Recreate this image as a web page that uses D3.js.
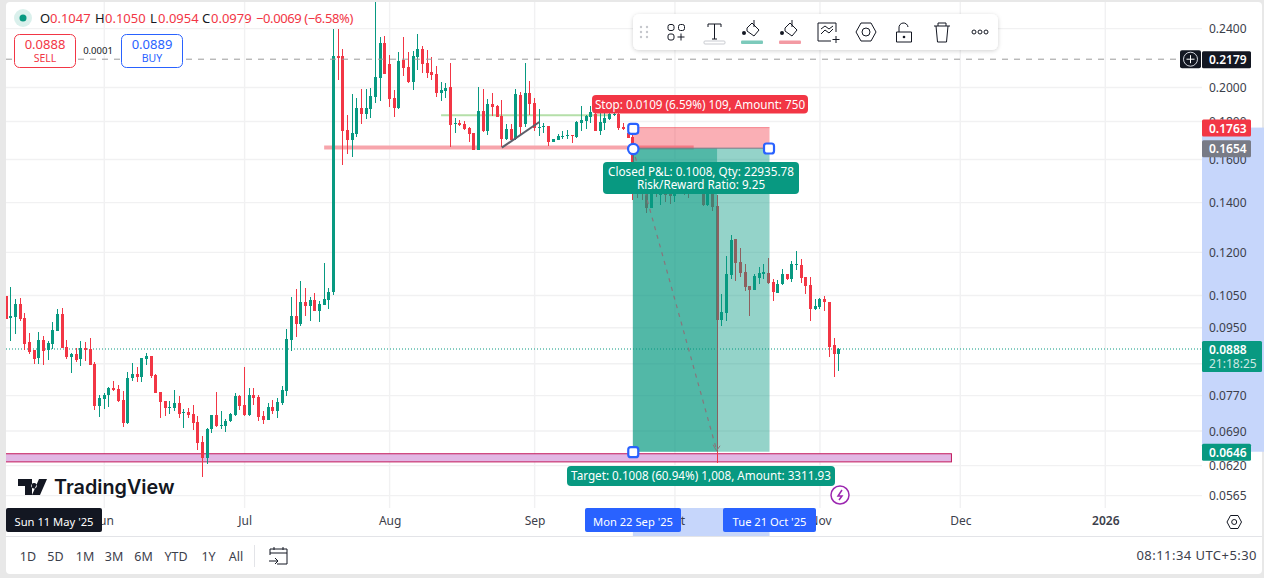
<!DOCTYPE html>
<html>
<head>
<meta charset="utf-8">
<script src="https://cdn.jsdelivr.net/npm/d3@7"></script>
<style>
  html, body { margin: 0; padding: 0; background: #e8e8e8; overflow: hidden; }
  text { font-family: "Noto Sans", sans-serif; }
</style>
</head>
<body>
<div id="container"></div>
<script>
const width = 1264;
const height = 578;

const green = "#089981";
const red = "#f23645";
const blue = "#2962ff";
const ink = "#131722";

// daily candles, first one is 11 May 2025
const firstDay = Date.UTC(2025, 4, 11);
const opens = [
  .1046,.0977,.0980,.1020,.0977,.0907,.0885,.0863,.0913,.0885,
  .0902,.0939,.0990,.0893,.0866,.0874,.0861,.0891,.0888,.0848,
  .0744,.0760,.0770,.0787,.0785,.0758,.0706,.0812,.0822,.0815,
  .0861,.0868,.0820,.0777,.0756,.0740,.0740,.0751,.0728,.0731,
  .0726,.0709,.0666,.0634,.0693,.0724,.0699,.0699,.0711,.0724,
  .0768,.0747,.0724,.0770,.0765,.0721,.0713,.0742,.0733,.0751,
  .0780,.0913,.0983,.0959,.1027,.1014,.1033,.0999,.1017,.1033,
  .1059,.2200,.2200,.1750,.1696,.1730,.1873,.1838,.1867,.1938,
  .2056,.2291,.2146,.1932,.1873,.2173,.2127,.2030,.2193,.2249,
  .2153,.2094,.2081,.1963,.1975,.1999,.1783,.1788,.1783,.1761,
  .1732,.1645,.1855,.1745,.1896,.1885,.1827,.1701,.1755,.1701,
  .1951,.1783,.1963,.1902,.1761,.1766,.1772,.1686,.1696,.1711,
  .1717,.1723,.1711,.1788,.1799,.1822,.1838,.1745,.1788,.1810,
  .1833,.1838,.1766,.1734,.1711,.1536,.1485,.1499,.1375,.1462,
  .1431,.1462,.1453,.1426,.1444,.1476,.1453,.1440,.1476,.1485,
  .1387,.1476,.1383,.0971,.0993,.1116,.1248,.1163,.1127,.1078,
  .1066,.1106,.1120,.1123,.1092,.1056,.1086,.1120,.1102,.1156,
  .1152,.1109,.1082,.1005,.1011,.1036,.1026,.0899,.0874
];
const highs = [
  .1046,.1077,.1036,.1040,.0993,.0933,.0885,.0936,.0924,.0910,
  .0965,.1005,.1008,.0913,.0877,.0891,.0910,.0907,.0919,.0853,
  .0770,.0775,.0790,.0805,.0795,.0780,.0827,.0850,.0840,.0863,
  .0877,.0868,.0822,.0777,.0756,.0756,.0782,.0768,.0737,.0740,
  .0747,.0721,.0678,.0695,.0724,.0777,.0733,.0715,.0728,.0775,
  .0770,.0840,.0787,.0787,.0770,.0733,.0751,.0758,.0763,.0792,
  .0945,.1043,.1069,.1096,.1072,.1043,.1056,.1030,.1159,.1073,
  .2393,.2390,.2247,.1833,.1957,.1932,.1987,.1987,.1993,.2601,
  .2334,.2341,.2207,.1981,.2228,.2334,.2228,.2235,.2355,.2270,
  .2242,.2193,.2133,.2030,.2024,.2153,.1816,.1805,.1799,.1766,
  .1732,.1999,.1987,.1926,.1963,.1891,.1920,.1783,.1783,.1987,
  .1969,.2153,.2037,.1932,.1867,.1788,.1772,.1701,.1728,.1745,
  .1750,.1723,.1799,.1885,.1833,.1885,.1885,.1855,.1842,.1861,
  .1861,.1849,.1788,.1750,.1723,.1546,.1499,.1522,.1499,.1485,
  .1476,.1476,.1470,.1476,.1476,.1499,.1485,.1476,.1499,.1508,
  .1499,.1508,.1431,.1053,.1185,.1264,.1248,.1214,.1156,.1078,
  .1120,.1145,.1156,.1177,.1102,.1099,.1138,.1120,.1166,.1203,
  .1174,.1109,.1109,.1036,.1040,.1048,.1026,.0919,.0891
];
const lows = [
  .0974,.0910,.0930,.0968,.0886,.0875,.0848,.0848,.0845,.0858,
  .0888,.0939,.0891,.0861,.0825,.0853,.0842,.0855,.0845,.0735,
  .0720,.0737,.0742,.0780,.0753,.0698,.0704,.0805,.0802,.0802,
  .0845,.0812,.0775,.0717,.0721,.0726,.0733,.0717,.0695,.0717,
  .0691,.0649,.0597,.0622,.0685,.0697,.0693,.0687,.0709,.0721,
  .0735,.0721,.0721,.0747,.0711,.0704,.0713,.0726,.0717,.0747,
  .0768,.0882,.0922,.0953,.0983,.0968,.0999,.0965,.1017,.1005,
  .1049,.2043,.1571,.1625,.1610,.1714,.1783,.1810,.1816,.1902,
  .1914,.2081,.1879,.1822,.1867,.2068,.2024,.1981,.2107,.2087,
  .2056,.2043,.1938,.1914,.1932,.1660,.1734,.1772,.1750,.1686,
  .1645,.1645,.1740,.1723,.1827,.1822,.1660,.1696,.1696,.1696,
  .1723,.1766,.1833,.1745,.1717,.1734,.1665,.1686,.1696,.1701,
  .1701,.1680,.1706,.1745,.1755,.1788,.1745,.1723,.1750,.1805,
  .1827,.1750,.1750,.1706,.1409,.1418,.1409,.1354,.1375,.1422,
  .1387,.1400,.1392,.1400,.1435,.1431,.1418,.1435,.1435,.1383,
  .1383,.1362,.0624,.0953,.0968,.1102,.1096,.1109,.1063,.0983,
  .1066,.1086,.1102,.1086,.1030,.1056,.1082,.1099,.1092,.1134,
  .1089,.1053,.0968,.1002,.1005,.0999,.0866,.0815,.0829
];
const closes = [
  .0974,.0983,.1020,.0974,.0902,.0881,.0861,.0913,.0882,.0904,
  .0942,.0990,.0891,.0866,.0874,.0858,.0891,.0886,.0845,.0744,
  .0763,.0770,.0787,.0782,.0756,.0706,.0812,.0822,.0815,.0863,
  .0868,.0817,.0775,.0753,.0740,.0742,.0751,.0726,.0731,.0724,
  .0706,.0664,.0634,.0693,.0724,.0699,.0702,.0711,.0726,.0768,
  .0744,.0724,.0770,.0763,.0720,.0713,.0742,.0733,.0753,.0782,
  .0916,.0983,.0959,.1027,.1014,.1033,.0999,.1020,.1036,.1059,
  .2200,.2187,.1745,.1696,.1734,.1873,.1838,.1873,.1944,.2062,
  .2291,.2081,.1926,.1873,.2166,.2120,.2030,.2200,.2249,.2146,
  .2087,.2075,.1963,.1981,.1993,.1777,.1788,.1777,.1755,.1728,
  .1645,.1855,.1745,.1896,.1879,.1822,.1701,.1755,.1696,.1957,
  .1766,.1963,.1896,.1761,.1766,.1772,.1686,.1701,.1717,.1717,
  .1723,.1717,.1794,.1805,.1827,.1849,.1745,.1794,.1816,.1838,
  .1838,.1761,.1755,.1706,.1570,.1462,.1444,.1375,.1476,.1444,
  .1453,.1431,.1426,.1462,.1462,.1444,.1436,.1462,.1453,.1387,
  .1476,.1379,.0971,.0996,.1120,.1244,.1159,.1123,.1076,.1066,
  .1113,.1123,.1127,.1089,.1059,.1086,.1120,.1102,.1156,.1156,
  .1106,.1079,.1005,.1014,.1036,.1026,.0893,.0874,.0888
];

const priceTicks = [.24, .2, .18, .16, .14, .12, .105, .095, .085, .077, .069, .062, .0565];
const monthTicks = [
  [Date.UTC(2025, 5, 1), "Jun"], [Date.UTC(2025, 6, 1), "Jul"], [Date.UTC(2025, 7, 1), "Aug"],
  [Date.UTC(2025, 8, 1), "Sep"], [Date.UTC(2025, 9, 1), "Oct"], [Date.UTC(2025, 10, 1), "Nov"],
  [Date.UTC(2025, 11, 1), "Dec"], [Date.UTC(2026, 0, 1), "2026"]
];
const rangeButtons = [["1D", 28], ["5D", 55.5], ["1M", 85], ["3M", 114], ["6M", 143.5], ["YTD", 176], ["1Y", 208.5], ["All", 236]];
const legendParts = [
  ["O", ink, 40], ["0.1047", red, 50], ["H", ink, 95], ["0.1050", red, 105], ["L", ink, 150],
  ["0.0954", red, 158], ["C", ink, 202], ["0.0979", red, 211], ["−0.0069 (−6.58%)", red, 256]
];

const dayMs = 86400000;
const dates = opens.map((d, i) => new Date(firstDay + i * dayMs));

const x = d3.scaleUtc()
  .domain([new Date(Date.UTC(2025, 5, 1)), new Date(Date.UTC(2026, 0, 1))])
  .range([104.3, 1105.3]);
const y = d3.scaleLog()
  .domain([.24, .0565])
  .range([28, 495]);
const day = (m, d) => new Date(Date.UTC(2025, m, d));

const panelRight = 1202;
const panelBottom = 508;

const svg = d3.select("#container").append("svg")
  .attr("width", width)
  .attr("height", height)
  .style("display", "block");

svg.append("rect").attr("x", 6).attr("y", 2).attr("width", 1256).attr("height", 572).attr("rx", 4).attr("fill", "#fff");
const defs = svg.append("defs");
defs.append("clipPath").attr("id", "panel")
  .append("rect").attr("x", 6).attr("y", 2).attr("width", panelRight - 6).attr("height", panelBottom - 2);
const shadow = defs.append("filter").attr("id", "soft").attr("x", "-5%").attr("y", "-30%").attr("width", "110%").attr("height", "170%");
shadow.append("feDropShadow").attr("dx", 0).attr("dy", 1).attr("stdDeviation", 2).attr("flood-opacity", .18);

// axis highlight bands go under the tick labels
svg.append("rect").attr("x", panelRight).attr("y", y(.1763)).attr("width", width - panelRight).attr("height", y(.0646) - y(.1763)).attr("fill", "#c6d6fb");
svg.append("rect").attr("x", x(day(8, 22))).attr("y", panelBottom).attr("width", x(day(9, 21)) - x(day(8, 22)) + 1).attr("height", 28).attr("fill", "#c6d6fb");

const plot = svg.append("g").attr("clip-path", "url(#panel)");

// grid
plot.append("g").selectAll("line").data(priceTicks).enter().append("line")
  .attr("x1", 6).attr("x2", panelRight)
  .attr("y1", d => y(d) + .6).attr("y2", d => y(d) + .6)
  .attr("stroke", "#f1f1f2").attr("stroke-width", 1.4);
plot.append("g").selectAll("line").data(monthTicks).enter().append("line")
  .attr("x1", d => x(new Date(d[0]))).attr("x2", d => x(new Date(d[0])))
  .attr("y1", 2).attr("y2", panelBottom)
  .attr("stroke", "#f1f1f2").attr("stroke-width", 1.4);

// drawings that sit behind the candles
plot.append("rect")
  .attr("x", 0).attr("width", x(day(10, 29)) + .5)
  .attr("y", y(.0643) + .5).attr("height", y(.0627) - y(.0643))
  .attr("fill", "#e1b7e4").attr("stroke", "#c2185b").attr("stroke-width", 1);
plot.append("line")
  .attr("x1", x(day(7, 12))).attr("x2", x(day(8, 17)))
  .attr("y1", y(.1831)).attr("y2", y(.1831))
  .attr("stroke", "#b5dfa9").attr("stroke-width", 2);
plot.append("line")
  .attr("x1", x(day(6, 18))).attr("x2", x(day(9, 5)))
  .attr("y1", y(.1657)).attr("y2", y(.1657))
  .attr("stroke", "#f7a5ac").attr("stroke-width", 4);
plot.append("line")
  .attr("x1", 6).attr("x2", panelRight)
  .attr("y1", y(.0888)).attr("y2", y(.0888))
  .attr("stroke", green).attr("stroke-dasharray", "1 2");

// candles
const candle = plot.append("g").attr("shape-rendering", "crispEdges")
  .selectAll("g").data(dates).enter().append("g")
  .attr("fill", (d, i) => closes[i] < opens[i] ? red : green);
candle.append("rect")
  .attr("x", d => Math.floor(x(d)))
  .attr("width", 1)
  .attr("y", (d, i) => y(highs[i]))
  .attr("height", (d, i) => y(lows[i]) - y(highs[i]));
candle.append("rect")
  .attr("x", d => Math.floor(x(d)) - 1)
  .attr("width", 3)
  .attr("y", (d, i) => y(Math.max(opens[i], closes[i])))
  .attr("height", (d, i) => Math.max(1, Math.abs(y(opens[i]) - y(closes[i]))));

// trend line and alert line over the candles
plot.append("line")
  .attr("x1", x(day(7, 25))).attr("x2", x(day(8, 2)))
  .attr("y1", y(.1657)).attr("y2", y(.1794))
  .attr("stroke", "#5d606b").attr("stroke-width", 2);
plot.append("line")
  .attr("x1", 6).attr("x2", 1180)
  .attr("y1", y(.2179)).attr("y2", y(.2179))
  .attr("stroke", "#9a9a9a").attr("stroke-dasharray", "6 6");

// long position tool
const posL = x(day(8, 22));
const posR = x(day(9, 21)) + 1;
const posClose = x(day(9, 10));
plot.append("rect").attr("x", posL).attr("width", posR - posL)
  .attr("y", y(.1763)).attr("height", y(.1654) - y(.1763))
  .attr("fill", red).attr("fill-opacity", .4);
plot.append("line").attr("x1", posL).attr("x2", posR).attr("y1", y(.1763)).attr("y2", y(.1763))
  .attr("stroke", red).attr("stroke-opacity", .5);
plot.append("rect").attr("x", posL).attr("width", posR - posL)
  .attr("y", y(.1654)).attr("height", y(.0646) - y(.1654))
  .attr("fill", green).attr("fill-opacity", .43);
plot.append("rect").attr("x", posL).attr("width", posClose - posL)
  .attr("y", y(.1654)).attr("height", y(.0646) - y(.1654))
  .attr("fill", green).attr("fill-opacity", .47);
plot.append("line").attr("x1", posL).attr("x2", posClose).attr("y1", y(.1654)).attr("y2", y(.0646))
  .attr("stroke", "#87767c").attr("stroke-width", 1.2).attr("stroke-dasharray", "4 5");
plot.append("path")
  .attr("d", `M${posClose - 4},${y(.0646) - 7}L${posClose - .5},${y(.0646) - 1}L${posClose + 3},${y(.0646) - 6}`)
  .attr("fill", "none").attr("stroke", "#87767c");
plot.append("line").attr("x1", posL).attr("x2", posR).attr("y1", y(.1654)).attr("y2", y(.1654))
  .attr("stroke", "#787b86");

// handles of the position tool
const squareHandle = (cx, cy) => svg.append("rect")
  .attr("x", cx - 5).attr("y", cy - 5).attr("width", 10).attr("height", 10).attr("rx", 2.5)
  .attr("fill", "#fff").attr("stroke", blue).attr("stroke-width", 2.2);
squareHandle(posL + .4, y(.1763) + 1.2);
squareHandle(posR - .5, y(.1654) + .3);
squareHandle(posL + .4, y(.0646) + .4);
svg.append("circle").attr("cx", posL + .4).attr("cy", y(.1654) + .8).attr("r", 5.2)
  .attr("fill", "#fff").attr("stroke", blue).attr("stroke-width", 2.2);

// position labels
const tag = (x0, y0, w, h, fill, lines) => {
  svg.append("rect").attr("x", x0).attr("y", y0).attr("width", w).attr("height", h).attr("rx", 4).attr("fill", fill);
  lines.forEach((t, i) => svg.append("text")
    .attr("x", x0 + w / 2).attr("y", y0 + 13.5 + i * 13)
    .attr("text-anchor", "middle").attr("fill", "#fff").attr("font-size", 11.7).text(t));
};
tag(592, 95, 216, 18.5, red, ["Stop: 0.0109 (6.59%) 109, Amount: 750"]);
tag(603, 162, 196, 32, green, ["Closed P&L: 0.1008, Qty: 22935.78", "Risk/Reward Ratio: 9.25"]);
tag(567, 466, 268, 20, green, ["Target: 0.1008 (60.94%) 1,008, Amount: 3311.93"]);

// price axis
const yAxis = svg.append("g")
  .attr("transform", `translate(${panelRight},0.7)`)
  .call(d3.axisRight(y).tickValues(priceTicks.filter(d => d !== .085)).tickFormat(d3.format(".4f")).tickSize(0).tickPadding(7));
yAxis.select(".domain").remove();
yAxis.selectAll("text").attr("font-size", 12).attr("fill", "#3c404b").style("font-family", '"Noto Sans", sans-serif');

// time axis
const xAxis = svg.append("g")
  .attr("transform", `translate(0,${panelBottom})`)
  .call(d3.axisBottom(x).tickValues(monthTicks.map(d => new Date(d[0])))
    .tickFormat((d, i) => monthTicks[i][1]).tickSize(0).tickPadding(8));
xAxis.select(".domain").remove();
xAxis.selectAll("text").attr("font-size", 12).attr("fill", "#3c404b").style("font-family", '"Noto Sans", sans-serif');
xAxis.selectAll("text").filter((d, i) => i === 7).attr("font-weight", 600);

// price labels
const priceTag = (v, fill, w, label) => {
  svg.append("rect").attr("x", panelRight).attr("y", y(v) - 8).attr("width", w).attr("height", 17).attr("rx", 1.5).attr("fill", fill);
  svg.append("text").attr("x", panelRight + 7).attr("y", y(v) + 5)
    .attr("fill", "#fff").attr("font-size", 12).attr("font-weight", 600).text(label);
};
priceTag(.1763, red, 49, "0.1763");
priceTag(.1654, "#787b86", 49, "0.1654");
priceTag(.0646, green, 49, "0.0646");
priceTag(.2179, ink, 49, "0.2179");

svg.append("rect").attr("x", panelRight).attr("y", 341).attr("width", 60).attr("height", 31).attr("rx", 1.5).attr("fill", green);
svg.append("text").attr("x", panelRight + 7).attr("y", 354).attr("fill", "#fff").attr("font-size", 12).attr("font-weight", 600).text("0.0888");
svg.append("text").attr("x", panelRight + 7).attr("y", 368).attr("fill", "#fff").attr("fill-opacity", .8).attr("font-size", 12).text("21:18:25");

// plus button of the alert line
svg.append("rect").attr("x", 1180).attr("y", y(.2179) - 9).attr("width", 21).attr("height", 18).attr("rx", 2).attr("fill", ink);
svg.append("circle").attr("cx", 1190.5).attr("cy", y(.2179)).attr("r", 7).attr("fill", "none").attr("stroke", "#d1d4dc");
svg.append("path").attr("d", `M1190.5,${y(.2179) - 4}v8M1186.5,${y(.2179)}h8`).attr("stroke", "#fff");

// crosshair date boxes
const dateBox = (x0, w, fill, label) => {
  svg.append("rect").attr("x", x0).attr("y", panelBottom).attr("width", w).attr("height", 24).attr("rx", 2).attr("fill", fill);
  svg.append("text").attr("x", x0 + w / 2).attr("y", panelBottom + 18).attr("text-anchor", "middle")
    .attr("fill", "#fff").attr("font-size", 11.2).text(label);
};
dateBox(6, 96, ink, "Sun 11 May '25");
dateBox(585, 96, blue, "Mon 22 Sep '25");
dateBox(723, 93, blue, "Tue 21 Oct '25");

// legend row
svg.append("circle").attr("cx", 23).attr("cy", 18).attr("r", 9).attr("fill", green).attr("fill-opacity", .15);
svg.append("circle").attr("cx", 23).attr("cy", 18).attr("r", 3.5).attr("fill", green);
svg.selectAll(".legend").data(legendParts).enter().append("text")
  .attr("class", "legend")
  .attr("x", d => d[2]).attr("y", 23).attr("font-size", 13)
  .attr("letter-spacing", d => d[0].length > 6 ? -.4 : 0)
  .attr("fill", d => d[1]).text(d => d[0]);

const orderBox = (x0, color, price, side) => {
  svg.append("rect").attr("x", x0 + .5).attr("y", 34.5).attr("width", 61).attr("height", 33).attr("rx", 5)
    .attr("fill", "#fff").attr("stroke", color);
  svg.append("text").attr("x", x0 + 31).attr("y", 49).attr("text-anchor", "middle").attr("fill", color).attr("font-size", 13).text(price);
  svg.append("text").attr("x", x0 + 31).attr("y", 62).attr("text-anchor", "middle").attr("fill", color).attr("font-size", 10.5).text(side);
};
orderBox(14, red, "0.0888", "SELL");
orderBox(121, blue, "0.0889", "BUY");
svg.append("text").attr("x", 98).attr("y", 54).attr("text-anchor", "middle").attr("fill", ink).attr("font-size", 9.5).text("0.0001");

// drawing toolbar
svg.append("rect").attr("x", 633).attr("y", 14).attr("width", 365).attr("height", 36).attr("rx", 6)
  .attr("fill", "#fff").attr("filter", "url(#soft)");
const icons = svg.append("g").attr("fill", "none").attr("stroke", ink).attr("stroke-width", 1);
[[641, 27], [647, 27], [641, 32], [647, 32], [641, 37], [647, 37]].forEach(p =>
  svg.append("circle").attr("cx", p[0]).attr("cy", p[1]).attr("r", 1.2).attr("fill", "#c5c7cc"));
[[671, 27.5], [681.5, 27.5], [671, 37]].forEach(p =>
  icons.append("rect").attr("x", p[0] - 3).attr("y", p[1] - 3).attr("width", 6).attr("height", 6).attr("rx", 2));
icons.append("path").attr("d", "M681,33.5v7M677.5,37h7");
icons.append("path").attr("d", "M708,27v-3h13v3M714.5,24v15M712,39h5");
svg.append("rect").attr("x", 704).attr("y", 41).attr("width", 21).attr("height", 3).attr("rx", 1).attr("fill", "#fff").attr("stroke", "#c9cbd1");
[[752, "#7ccabb"], [790, "#f39aa3"]].forEach(d => {
  icons.append("path").attr("d", `M${d[0] - 5},28l5,-5l7,7l-5,6l-7,-5zM${d[0] + 2},20v7`);
  svg.append("circle").attr("cx", d[0] - 8).attr("cy", 33).attr("r", 2).attr("fill", ink);
  svg.append("rect").attr("x", d[0] - 11).attr("y", 40.5).attr("width", 22).attr("height", 3.5).attr("rx", 1).attr("fill", d[1]);
});
icons.append("path").attr("d", "M836,32v-9h-18v18h13M821,34l4,-4l4,3l4,-4M821,29l4,-3l4,3l4,-3M836,36v7M832.5,39.5h7");
icons.append("path").attr("d", "M856,32l5,-9h10l5,9l-5,9h-10z");
icons.append("circle").attr("cx", 866).attr("cy", 32).attr("r", 4);
icons.append("path").attr("d", "M896.5,32h15v10h-15zM899,32v-4a4.5,4.5 0 0 1 9,-1");
svg.append("circle").attr("cx", 904).attr("cy", 37).attr("r", 1.3).attr("fill", ink);
icons.append("path").attr("d", "M934,26h16M938,26v-3h8v3M936,26l1.5,16h9l1.5,-16");
[974, 980, 986].forEach(cx => icons.append("circle").attr("cx", cx).attr("cy", 32).attr("r", 2));

// logo
svg.append("path")
  .attr("d", "M18,479h14v16h-7v-9h-7zM34,483a2.8,2.8 0 1 0 .1,0zM39,479h8l-7,16h-8z")
  .attr("fill", ink);
svg.append("text").attr("x", 54).attr("y", 494).attr("font-size", 19.8).attr("font-weight", 600)
  .attr("fill", ink).style("font-family", "Inter, sans-serif").text("TradingView");

// lightning mark
svg.append("circle").attr("cx", 840).attr("cy", 495).attr("r", 9).attr("fill", "#fff").attr("stroke", "#9c27b0").attr("stroke-width", 1.5);
svg.append("path").attr("d", "M842,490l-4,6h4l-3,4").attr("fill", "none").attr("stroke", "#9c27b0").attr("stroke-width", 1.5);

// settings hexagon
const gear = svg.append("g").attr("fill", "none").attr("stroke", ink);
gear.append("path").attr("d", "M1227,522l3.5,-6.5h7.5l3.5,6.5l-3.5,6.5h-7.5z");
gear.append("circle").attr("cx", 1234.2).attr("cy", 522).attr("r", 2.5);

// bottom bar
svg.append("line").attr("x1", 6).attr("x2", 1262).attr("y1", 536.5).attr("y2", 536.5).attr("stroke", "#e3e4e8");
svg.selectAll(".range").data(rangeButtons).enter().append("text")
  .attr("class", "range")
  .attr("x", d => d[1]).attr("y", 561).attr("text-anchor", "middle")
  .attr("font-size", 12.5).attr("fill", "#3c404b").text(d => d[0]);
svg.append("line").attr("x1", 254.5).attr("x2", 254.5).attr("y1", 545).attr("y2", 567).attr("stroke", "#e3e4e8");
icons.append("path").attr("d", "M270,555v-6h17v15h-10M270,553h17M274,547v3M283,547v3M269,561h9M275,558l3,3l-3,3");
svg.append("text").attr("x", 1257).attr("y", 560).attr("text-anchor", "end").attr("font-size", 13).attr("letter-spacing", .45).attr("fill", "#3c404b").text("08:11:34 UTC+5:30");
</script>
</body>
</html>
